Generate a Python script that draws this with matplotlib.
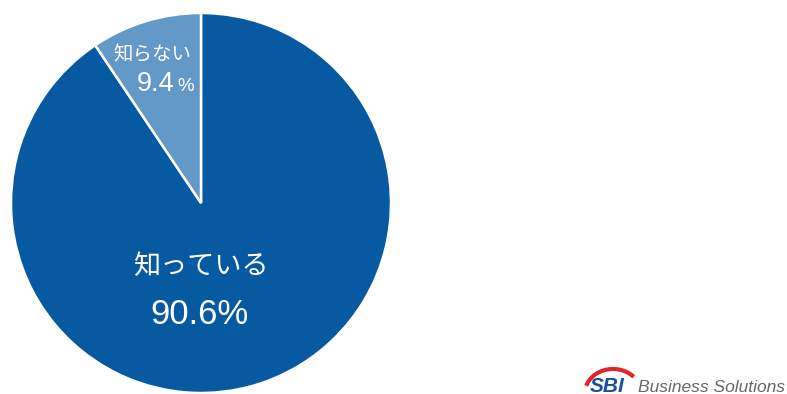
import matplotlib.pyplot as plt
from matplotlib.patches import Arc

labels = ['知っている', '知らない']
values = [90.6, 9.4]
pct_text = ['90.6', '9.4']
colors = ['#0759a2', '#6399c7']

plt.rcParams['font.family'] = ['Noto Sans CJK JP', 'DejaVu Sans']

H = 394  # figure height in px, y measured from top below

fig = plt.figure(figsize=(7.87, 3.94), dpi=100)
ax = fig.add_axes([0, 0, 1, 1])

ax.pie(values, colors=colors, startangle=90, counterclock=False,
       center=(201, H - 203), radius=190, frame=True,
       wedgeprops=dict(edgecolor='white', linewidth=1.8))
ax.set_xlim(0, 787)
ax.set_ylim(0, H)
ax.set_aspect('equal')
ax.axis('off')

# big slice label
ax.text(201, H - 266, labels[0], color='white', fontsize=19.5, ha='center', va='center')
ax.text(200, H - 314, pct_text[0] + '%', color='white', fontsize=25, ha='center',
        va='center', family='Liberation Sans')

# small slice label
ax.text(152, H - 55, labels[1], color='white', fontsize=14, ha='center', va='center')
ax.text(156, H - 84, pct_text[1], color='white', fontsize=19.5, ha='center',
        va='center', family='Liberation Sans')
ax.text(186, H - 86, '%', color='white', fontsize=13.5, ha='center', va='center',
        family='Liberation Sans')

# logo
ax.add_patch(Arc((613, H - 393), 56, 48, theta1=38, theta2=165, color='#e0262a', lw=3))
ax.text(607, H - 386, 'SBI', color='#1a4fa0', fontsize=15, fontweight='bold',
        style='italic', ha='center', va='center', family='Liberation Sans')
ax.text(638, H - 387, 'Business Solutions', color='#666666', fontsize=12.5,
        style='italic', ha='left', va='center', family='Liberation Sans')

fig.savefig('out.png', dpi=100, facecolor='white')
